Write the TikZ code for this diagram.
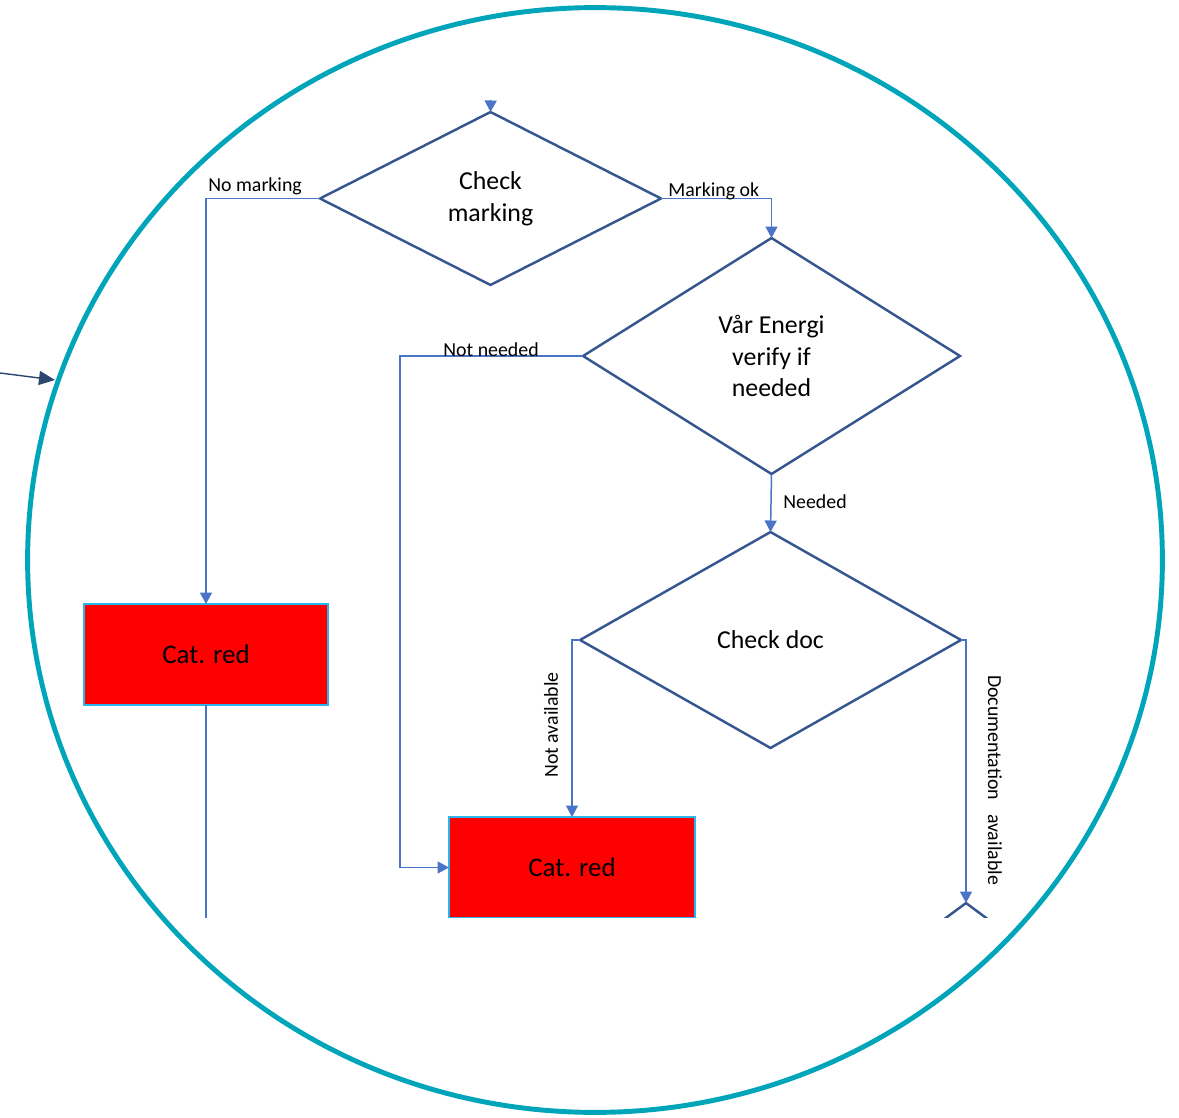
\documentclass[tikz,border=0pt]{standalone}
\usepackage{fontspec}
\setmainfont{Carlito}
\usetikzlibrary{shapes.geometric,arrows.meta,calc}
\definecolor{ringteal}{HTML}{00A5B9}
\definecolor{dkblue}{HTML}{35568F}
\definecolor{lnblue}{HTML}{4A74C6}
\definecolor{boxedge}{HTML}{2BB5EE}
\definecolor{navyarrow}{HTML}{2C4670}
\begin{document}
\begin{tikzpicture}[x=0.02cm,y=-0.02cm,
  dec/.style={diamond, draw=dkblue, line width=1.4pt, inner sep=0pt, outer sep=0pt, align=center, font=\fontsize{14.7}{18}\selectfont},
  redbox/.style={rectangle, fill=red, draw=boxedge, line width=0.9pt, outer sep=0pt, minimum height=2.02cm, font=\fontsize{15.3}{18}\selectfont},
  conn/.style={draw=lnblue, line width=0.85pt, -{Triangle[length=0.23cm,width=0.24cm]}},
  plainline/.style={draw=lnblue, line width=0.85pt},
  lbl/.style={font=\fontsize{11.3}{13}\selectfont, inner sep=0pt}]
\useasboundingbox (0,0) rectangle (1179,1118);
\begin{scope}
  \clip (0,101) rectangle (1179,917);
  % decisions
  \node[dec, minimum width=6.82cm, minimum height=3.46cm] (d1) at (490.5,198.5) {Check\\marking};
  \node[dec, minimum width=7.54cm, minimum height=4.72cm] (d2) at (771.5,356) {Vår Energi\\verify if\\needed};
  \node[dec, minimum width=7.62cm, minimum height=4.32cm] (d3) at (770.5,640) {Check doc};
  \node[dec, minimum width=6.0cm, minimum height=4.44cm] (d4) at (966,1014) {};
  % outcome boxes
  \node[redbox, minimum width=4.88cm] (cr1) at (206,654.5) {Cat. red};
  \node[redbox, minimum width=4.92cm] (cr2) at (572,867.5) {Cat. red};
  % free ends
  \coordinate (topin) at (491,80);
  \coordinate (cr1out) at (206,940);
  % connectors
  \draw[conn] (topin) -- (d1.north);
  \draw[conn] (d1.west) -| (cr1.north);
  \draw[conn] (d1.east) -| (d2.north);
  \draw[conn] (d2.west) -- ++(-183,0) |- (cr2.west);
  \draw[conn] (d2.south) -- (d3.north);
  \draw[conn] (d3.west) -| (cr2.north);
  \draw[conn] (d3.east) -| (d4.north);
  \draw[plainline] (cr1.south) -- (cr1out);
  % labels
  \node[lbl, anchor=base west] (lnomark) at (208,192) {No marking};
  \node[lbl, anchor=base west] (lmarkok) at (668,197) {Marking ok};
  \node[lbl, anchor=base west] (lnotneed) at (443,357) {Not needed};
  \node[lbl, anchor=base west] (lneed) at (783,508) {Needed};
  \node[lbl, rotate=90] (lnotavail) at (551,725) {Not available};
  \node[lbl, rotate=-90] (ldocavail) at (995,780) {Documentation\hspace{0.7em}available};
\end{scope}
% pointer arrow
\coordinate (pa) at (0,373);
\coordinate (pb) at (55,380);
\draw[navyarrow, line width=0.8pt, -{Triangle[length=0.32cm,width=0.28cm]}] (pa) -- (pb);
% ring
\node[draw=none, inner sep=0pt] (ringc) at (595,560) {};
\draw[ringteal, line width=2.8pt] (ringc) ellipse [x radius=11.35cm, y radius=11.05cm];
\end{tikzpicture}
\end{document}
